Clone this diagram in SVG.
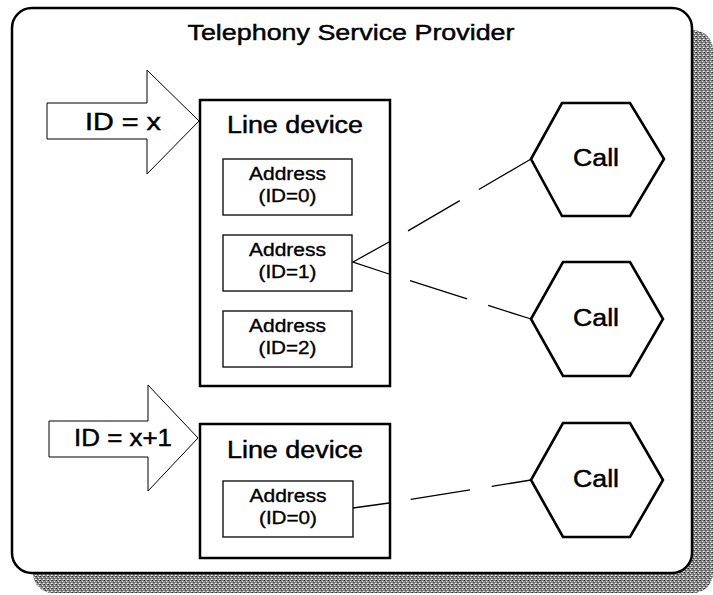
<svg xmlns="http://www.w3.org/2000/svg" width="713" height="595" viewBox="0 0 713 595">
  <defs>
    <!-- grainy dither used for the drop shadow -->
    <pattern id="dither" width="4" height="4" patternUnits="userSpaceOnUse">
      <rect width="4" height="4" fill="#8c8c8c"/>
      <rect x="0" y="0" width="1" height="1" fill="#2a2a2a"/>
      <rect x="2" y="1" width="1" height="1" fill="#e0e0e0"/>
      <rect x="1" y="2" width="1" height="1" fill="#444"/>
      <rect x="3" y="3" width="1" height="1" fill="#f4f4f4"/>
      <rect x="3" y="0" width="1" height="1" fill="#5a5a5a"/>
      <rect x="0" y="3" width="1" height="1" fill="#c8c8c8"/>
      <rect x="2" y="2" width="1" height="1" fill="#6e6e6e"/>
    </pattern>
    <style>
      text { font-family: "Liberation Sans", Arial, sans-serif; fill: #000; stroke: #000; stroke-width: 0.45; text-anchor: middle; }
      .title { font-size: 22px; }
      .big { font-size: 23px; }
      .addr { font-size: 18px; stroke-width: 0.35; }
      .frame { fill: #fff; stroke: #000; stroke-width: 2.5; }
      .device { fill: #fff; stroke: #000; stroke-width: 2.5; }
      .address { fill: #fff; stroke: #000; stroke-width: 1.3; }
      .arrow { fill: #fff; stroke: #000; stroke-width: 1; }
      .call { fill: #fff; stroke: #000; stroke-width: 2.6; stroke-linejoin: miter; }
      .link { fill: none; stroke: #000; stroke-width: 1.3; }
      .dash { fill: none; stroke: #000; stroke-width: 1.3; stroke-dasharray: 60 22; stroke-dashoffset: 60; }
    </style>
  </defs>

  <!-- provider frame with drop shadow -->
  <g id="provider">
    <rect x="33" y="30" width="680" height="563" rx="20" fill="url(#dither)"/>
    <rect x="12" y="8" width="680" height="565" rx="20" class="frame"/>
    <text class="title" x="351" y="40" textLength="327" lengthAdjust="spacingAndGlyphs">Telephony Service Provider</text>
  </g>

  <!-- device identifiers -->
  <g id="id-x">
    <polygon class="arrow" points="47,103 147,103 147,70 199,121 147,174 147,139 47,139"/>
    <text class="big" x="123" y="130" textLength="76" lengthAdjust="spacingAndGlyphs">ID = x</text>
  </g>
  <g id="id-x1">
    <polygon class="arrow" points="49,421 148,421 148,385 198,438 148,491 148,457 49,457"/>
    <text class="big" x="123" y="446" textLength="98" lengthAdjust="spacingAndGlyphs">ID = x+1</text>
  </g>

  <!-- first line device -->
  <g id="line-device-1">
    <rect x="200" y="100" width="190" height="286" class="device"/>
    <text class="big" x="295" y="133" textLength="136" lengthAdjust="spacingAndGlyphs">Line device</text>
  </g>
  <g id="address-1-0">
    <rect x="223" y="159" width="129" height="56" class="address"/>
    <text class="addr" x="287.5" y="180" textLength="77" lengthAdjust="spacingAndGlyphs">Address</text>
    <text class="addr" x="287.5" y="202" textLength="58" lengthAdjust="spacingAndGlyphs">(ID=0)</text>
  </g>
  <g id="address-1-1">
    <rect x="223" y="235" width="129" height="56" class="address"/>
    <text class="addr" x="287.5" y="256" textLength="77" lengthAdjust="spacingAndGlyphs">Address</text>
    <text class="addr" x="287.5" y="278" textLength="58" lengthAdjust="spacingAndGlyphs">(ID=1)</text>
  </g>
  <g id="address-1-2">
    <rect x="223" y="311" width="129" height="56" class="address"/>
    <text class="addr" x="287.5" y="332" textLength="77" lengthAdjust="spacingAndGlyphs">Address</text>
    <text class="addr" x="287.5" y="354" textLength="58" lengthAdjust="spacingAndGlyphs">(ID=2)</text>
  </g>

  <!-- second line device -->
  <g id="line-device-2">
    <rect x="200" y="424" width="190" height="134" class="device"/>
    <text class="big" x="295" y="458" textLength="136" lengthAdjust="spacingAndGlyphs">Line device</text>
  </g>
  <g id="address-2-0">
    <rect x="223" y="481" width="130" height="56" class="address"/>
    <text class="addr" x="288" y="502" textLength="77" lengthAdjust="spacingAndGlyphs">Address</text>
    <text class="addr" x="288" y="524" textLength="58" lengthAdjust="spacingAndGlyphs">(ID=0)</text>
  </g>

  <!-- calls -->
  <g id="call-1">
    <polygon class="call" points="531,159 562,103 630,103 664,159 630,216 562,216"/>
    <text class="big" x="596" y="166" textLength="46" lengthAdjust="spacingAndGlyphs">Call</text>
  </g>
  <g id="call-2">
    <polygon class="call" points="531,319 563,262 630,262 663,319 630,376 563,376"/>
    <text class="big" x="596" y="326" textLength="46" lengthAdjust="spacingAndGlyphs">Call</text>
  </g>
  <g id="call-3">
    <polygon class="call" points="531,480 563,423 630,423 663,480 630,537 563,537"/>
    <text class="big" x="596" y="487" textLength="46" lengthAdjust="spacingAndGlyphs">Call</text>
  </g>

  <!-- connectors: solid inside the device, dashed out to each call -->
  <g id="connectors">
    <polyline class="link" points="389,242 353,262 389,274"/>
    <line class="dash" x1="389" y1="242" x2="531" y2="159"/>
    <line class="dash" x1="389" y1="274" x2="531" y2="319"/>
    <line class="link" x1="353" y1="508" x2="389" y2="503"/>
    <line class="dash" x1="389" y1="503" x2="531" y2="480"/>
  </g>
</svg>
